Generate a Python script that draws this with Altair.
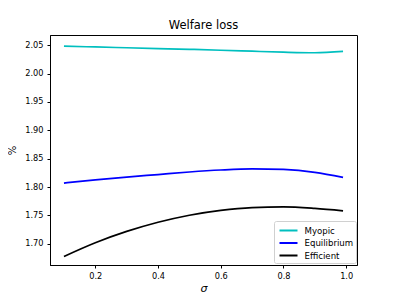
import altair as alt
import pandas as pd

sigma = [0.1, 0.2, 0.3, 0.4, 0.5, 0.6, 0.7, 0.8, 0.9, 0.99]
myopic = [2.0485, 2.0470, 2.0456, 2.0442, 2.0428, 2.0412, 2.0395, 2.0378, 2.0368, 2.0392]
equilibrium = [1.8070, 1.8125, 1.8175, 1.8220, 1.8265, 1.8300, 1.8320, 1.8310, 1.8260, 1.8170]
efficient = [1.6776, 1.7018, 1.7217, 1.7379, 1.7503, 1.7589, 1.7638, 1.7650, 1.7623, 1.7580]

series_names = ["Myopic", "Equilibrium", "Efficient"]
series_colors = ["#00bfbf", "#0000ff", "#000000"]
x_ticks = [0.2, 0.4, 0.6, 0.8, 1.0]
y_ticks = [1.70, 1.75, 1.80, 1.85, 1.90, 1.95, 2.00, 2.05]

rows = []
for name, vals in zip(series_names, [myopic, equilibrium, efficient]):
    for s, v in zip(sigma, vals):
        rows.append({"sigma": s, "loss": v, "series": name})
df = pd.DataFrame(rows)

FONT = "DejaVu Sans"

chart = alt.Chart(df).mark_line(strokeWidth=1.7, interpolate="monotone").encode(
    x=alt.X("sigma:Q",
            scale=alt.Scale(domain=[0.0555, 1.0345], nice=False, zero=False),
            axis=alt.Axis(values=x_ticks, format=".1f", title="σ", grid=False,
                          titleFontStyle="italic", titleFontSize=11, titleFontWeight="normal",
                          titlePadding=3, labelPadding=4)),
    y=alt.Y("loss:Q",
            scale=alt.Scale(domain=[1.6625, 2.0681], nice=False, zero=False),
            axis=alt.Axis(values=y_ticks, format=".2f", title="%", grid=False,
                          titleFontSize=10, titleFontWeight="normal", titlePadding=7,
                          labelPadding=4)),
    color=alt.Color("series:N",
                    scale=alt.Scale(domain=series_names, range=series_colors),
                    legend=alt.Legend(title=None, orient="none", legendX=224, legendY=186,
                                      symbolType="M-1.5,0H1.5", symbolSize=144,
                                      symbolStrokeWidth=2, symbolOffset=5,
                                      labelFontSize=8.6, labelFont=FONT, rowPadding=0.5,
                                      padding=2.5, fillColor="white", strokeColor="#d0d0d0",
                                      cornerRadius=2, labelColor="black", labelOffset=9)),
    order=alt.Order("series:N"),
).properties(
    width=307,
    height=230,
    title=alt.TitleParams("Welfare loss", fontSize=11.5, font=FONT, fontWeight="normal",
                          color="black", offset=4),
    autosize=alt.AutoSizeParams(type="none"),
    padding={"left": 42, "top": 27, "right": 30, "bottom": 32},
).configure_axis(
    labelFont=FONT, titleFont=FONT, labelFontSize=8.2, labelColor="black", titleColor="black",
    domainColor="black", tickColor="black", tickSize=3, domainWidth=1,
).configure_view(
    stroke="black", strokeWidth=1,
)

chart.save("out.html", embed_options={"renderer": "svg", "actions": False})
